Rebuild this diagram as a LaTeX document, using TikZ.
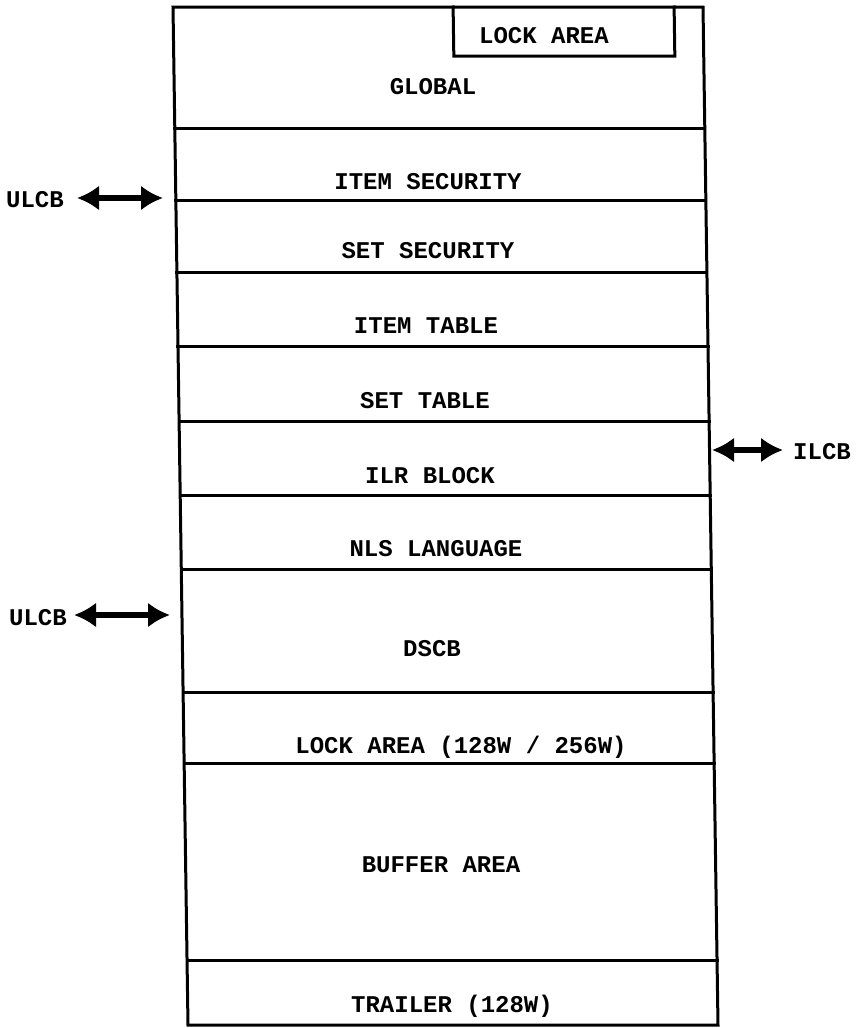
\documentclass[tikz,border=0pt]{standalone}
\usepackage{fontspec}
\setmonofont{Liberation Mono}
\usetikzlibrary{arrows.meta}
\begin{document}
\begin{tikzpicture}[x=1pt,y=-1pt,
  lbl/.style={font=\ttfamily\bfseries\fontsize{24}{24}\selectfont, inner sep=0pt, anchor=center},
  frameline/.style={line width=3pt, line cap=rect},
  dbl/.style={line width=6.5pt, {Latex[length=22pt,width=25pt]}-{Latex[length=22pt,width=25pt]}}]
\useasboundingbox (0,0) rectangle (858,1028);
\begin{scope}[cm={1,0,-0.01473,1,(0,0)}]
  \draw[frameline] (172.9,7) -- (702.9,7) -- (702.9,1025) -- (172.9,1025) -- cycle;
  \foreach \yy in {128,200,272,346,421,495,569,692,763,960}
    \draw[frameline] (172.9,\yy) -- (702.9,\yy);
  \draw[frameline] (453,7) -- (453,56) -- (674,56) -- (674,7);
\end{scope}
% texts
\node[lbl] (lockbox) at (544,36) {LOCK AREA};
\node[lbl] (global) at (433,87) {GLOBAL};
\node[lbl] (itemsec) at (428,182) {ITEM SECURITY};
\node[lbl] (setsec) at (428,251) {SET SECURITY};
\node[lbl] (itemtab) at (426,326) {ITEM TABLE};
\node[lbl] (settab) at (425,401) {SET TABLE};
\node[lbl] (ilr) at (430,476) {ILR BLOCK};
\node[lbl] (nls) at (436,549) {NLS LANGUAGE};
\node[lbl] (dscb) at (432,649) {DSCB};
\node[lbl] (lockarea) at (461,747) {LOCK AREA (128W / 256W)};
\node[lbl] (buffer) at (441,865) {BUFFER AREA};
\node[lbl] (trailer) at (452,1006) {TRAILER (128W)};
% labels and arrows
\node[lbl] (ulcba) at (35,200) {ULCB};
\coordinate (ulcbaL) at (77,198);
\coordinate (ulcbaR) at (163,198);
\draw[dbl] (ulcbaL) -- (ulcbaR);
\node[lbl] (ulcbb) at (38,618) {ULCB};
\coordinate (ulcbbL) at (74,615);
\coordinate (ulcbbR) at (170,615);
\draw[dbl] (ulcbbL) -- (ulcbbR);
\node[lbl] (ilcb) at (822,452) {ILCB};
\coordinate (ilcbL) at (712,450);
\coordinate (ilcbR) at (783,450);
\draw[dbl] (ilcbL) -- (ilcbR);
\end{tikzpicture}
\end{document}
